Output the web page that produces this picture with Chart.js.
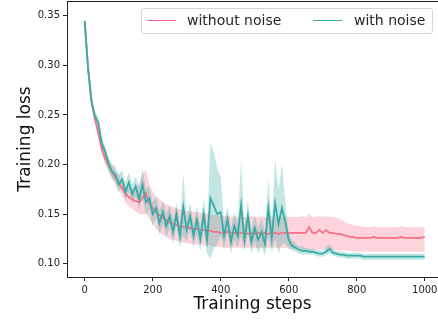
<!DOCTYPE html>
<html>
<head>
<meta charset="utf-8">
<script src="https://cdn.jsdelivr.net/npm/chart.js@4.4.1/dist/chart.umd.min.js"></script>
<style>
  body { margin: 0; background: #fff; }
  #wrap { position: relative; width: 438px; height: 320px; }
  #legend {
    position: absolute; left: 141px; top: 8px; width: 290px; height: 24px;
    border: 1px solid #d6d6d6; border-radius: 3px; background: rgba(255,255,255,0.8);
    font-family: "DejaVu Sans", sans-serif; font-size: 14px; color: #262626;
  }
  #legend .sw { position: absolute; top: 11px; width: 29px; height: 0; border-top: 1.8px solid; }
  #legend .lb { position: absolute; top: 3px; white-space: nowrap; }
</style>
</head>
<body>
<div id="wrap">
  <canvas id="myChart" width="438" height="320"></canvas>
  <div id="legend">
    <span class="sw" style="left:5px;border-color:#f77189"></span>
    <span class="lb" style="left:45px">without noise</span>
    <span class="sw" style="left:171px;border-color:#36ada4"></span>
    <span class="lb" style="left:212px">with noise</span>
  </div>
</div>
<script>
const steps = [0,10,20,30,40,50,60,70,80,90,100,110,120,130,140,150,160,170,180,190,
  200,210,220,230,240,250,260,270,280,290,300,310,320,330,340,350,360,370,380,390,
  400,410,420,430,440,450,460,470,480,490,500,510,520,530,540,550,560,570,580,590,
  600,610,620,630,640,650,660,670,680,690,700,710,720,730,740,750,760,770,780,790,
  800,810,820,830,840,850,860,870,880,890,900,910,920,930,940,950,960,970,980,990,1000];

// without noise
const redMean = [0.345,0.298,0.265,0.246,0.232,0.216,0.206,0.199,0.193,0.187,
  0.182,0.176,0.170,0.167,0.165,0.163,0.162,0.166,0.171,0.161,
  0.156,0.152,0.149,0.146,0.144,0.141,0.140,0.139,0.138,0.137,
  0.136,0.136,0.135,0.135,0.134,0.134,0.133,0.133,0.132,0.132,
  0.131,0.131,0.132,0.131,0.131,0.130,0.131,0.131,0.130,0.131,
  0.130,0.131,0.130,0.131,0.130,0.131,0.131,0.130,0.131,0.131,
  0.131,0.131,0.131,0.131,0.131,0.131,0.137,0.131,0.131,0.134,
  0.131,0.134,0.131,0.131,0.130,0.130,0.129,0.128,0.127,0.127,
  0.126,0.126,0.126,0.126,0.126,0.127,0.126,0.126,0.126,0.126,
  0.126,0.126,0.126,0.127,0.126,0.126,0.126,0.126,0.126,0.126,0.127];
const redLow = [0.341,0.293,0.260,0.241,0.227,0.211,0.200,0.193,0.186,0.180,
  0.174,0.168,0.162,0.158,0.155,0.152,0.150,0.150,0.150,0.145,
  0.140,0.135,0.132,0.129,0.127,0.125,0.124,0.123,0.122,0.121,
  0.121,0.120,0.120,0.119,0.119,0.118,0.118,0.118,0.117,0.117,
  0.117,0.116,0.116,0.116,0.116,0.116,0.116,0.116,0.116,0.116,
  0.116,0.116,0.116,0.116,0.116,0.116,0.116,0.116,0.116,0.116,
  0.115,0.115,0.115,0.115,0.115,0.114,0.114,0.114,0.114,0.114,
  0.114,0.114,0.114,0.114,0.114,0.113,0.113,0.113,0.113,0.112,
  0.112,0.112,0.112,0.112,0.112,0.112,0.112,0.112,0.112,0.112,
  0.112,0.112,0.112,0.112,0.112,0.112,0.112,0.112,0.112,0.112,0.112];
const redHigh = [0.349,0.303,0.270,0.251,0.237,0.221,0.212,0.205,0.200,0.194,
  0.190,0.185,0.179,0.177,0.176,0.176,0.180,0.190,0.195,0.180,
  0.172,0.168,0.165,0.162,0.160,0.158,0.157,0.156,0.155,0.154,
  0.153,0.153,0.152,0.152,0.151,0.151,0.150,0.150,0.149,0.149,
  0.148,0.148,0.148,0.147,0.148,0.147,0.148,0.147,0.147,0.148,
  0.147,0.147,0.148,0.147,0.147,0.148,0.147,0.147,0.147,0.148,
  0.147,0.147,0.147,0.147,0.148,0.147,0.150,0.147,0.147,0.148,
  0.147,0.148,0.147,0.147,0.146,0.145,0.143,0.141,0.140,0.139,
  0.138,0.138,0.137,0.137,0.137,0.138,0.137,0.137,0.137,0.137,
  0.137,0.137,0.137,0.138,0.137,0.137,0.137,0.137,0.137,0.137,0.137];

// with noise
const tealMean = [0.345,0.296,0.263,0.249,0.242,0.222,0.213,0.201,0.193,0.190,
  0.180,0.185,0.172,0.182,0.170,0.178,0.165,0.180,0.162,0.166,
  0.150,0.156,0.141,0.152,0.138,0.148,0.132,0.150,0.128,0.157,
  0.134,0.148,0.128,0.144,0.125,0.150,0.124,0.166,0.158,0.150,
  0.152,0.128,0.145,0.122,0.138,0.128,0.159,0.124,0.148,0.122,
  0.136,0.124,0.132,0.120,0.156,0.126,0.161,0.140,0.156,0.142,
  0.124,0.118,0.116,0.114,0.113,0.113,0.112,0.112,0.111,0.110,
  0.110,0.112,0.115,0.111,0.110,0.109,0.109,0.108,0.108,0.108,
  0.108,0.108,0.107,0.107,0.107,0.107,0.107,0.107,0.107,0.107,
  0.107,0.107,0.107,0.107,0.107,0.107,0.107,0.107,0.107,0.107,0.107];
const tealLow = [0.341,0.292,0.258,0.244,0.236,0.216,0.207,0.194,0.186,0.182,
  0.172,0.176,0.164,0.172,0.160,0.168,0.154,0.166,0.150,0.154,
  0.138,0.146,0.129,0.140,0.126,0.136,0.120,0.138,0.116,0.128,
  0.122,0.134,0.116,0.130,0.112,0.134,0.110,0.105,0.115,0.120,
  0.128,0.114,0.132,0.110,0.124,0.116,0.128,0.112,0.132,0.110,
  0.122,0.110,0.118,0.108,0.128,0.112,0.125,0.110,0.120,0.120,
  0.116,0.113,0.112,0.110,0.109,0.109,0.109,0.109,0.108,0.107,
  0.107,0.109,0.110,0.108,0.107,0.106,0.106,0.105,0.105,0.105,
  0.105,0.105,0.104,0.104,0.104,0.104,0.104,0.104,0.104,0.104,
  0.104,0.104,0.104,0.104,0.104,0.104,0.104,0.104,0.104,0.104,0.104];
const tealHigh = [0.349,0.300,0.268,0.254,0.248,0.228,0.219,0.208,0.200,0.198,
  0.190,0.194,0.182,0.192,0.180,0.188,0.178,0.196,0.176,0.178,
  0.162,0.168,0.153,0.164,0.150,0.160,0.144,0.162,0.140,0.191,
  0.146,0.162,0.140,0.158,0.138,0.166,0.138,0.222,0.212,0.196,
  0.188,0.142,0.158,0.134,0.152,0.140,0.205,0.136,0.164,0.134,
  0.150,0.136,0.146,0.132,0.185,0.140,0.205,0.175,0.200,0.162,
  0.132,0.123,0.120,0.118,0.117,0.116,0.115,0.115,0.114,0.113,
  0.113,0.116,0.120,0.115,0.113,0.112,0.112,0.111,0.111,0.111,
  0.111,0.111,0.110,0.110,0.110,0.110,0.110,0.110,0.110,0.110,
  0.110,0.110,0.110,0.110,0.110,0.110,0.110,0.110,0.110,0.110,0.110];

const xTicks = [0, 200, 400, 600, 800, 1000];
const yTicks = [0.10, 0.15, 0.20, 0.25, 0.30, 0.35];

const redColor = "#f77189";
const tealColor = "#36ada4";

function pts(arr) {
  return steps.map((s, i) => ({x: s, y: arr[i]}));
}

function band(arr, color, fill, order) {
  return {data: pts(arr), borderWidth: 0, pointRadius: 0, backgroundColor: color,
    fill: fill, order: order};
}

const topSpine = {
  id: "topSpine",
  afterDraw(chart) {
    const a = chart.chartArea, ctx = chart.ctx;
    ctx.save();
    ctx.strokeStyle = "#222";
    ctx.lineWidth = 1;
    ctx.beginPath();
    ctx.moveTo(a.left, a.top + 0.5);
    ctx.lineTo(a.right, a.top + 0.5);
    ctx.stroke();
    ctx.restore();
  }
};

const tickFont = {family: "DejaVu Sans", size: 10};
const titleFont = {family: "DejaVu Sans", size: 17};

new Chart("myChart", {
  type: "line",
  data: {
    datasets: [
      band(redLow, "rgba(247,113,137,0.3)", false, 4),
      band(redHigh, "rgba(247,113,137,0.3)", "-1", 4),
      band(tealLow, "rgba(54,173,164,0.3)", false, 3),
      band(tealHigh, "rgba(54,173,164,0.3)", "-1", 3),
      {label: "without noise", data: pts(redMean), borderColor: redColor, borderWidth: 1.8,
        pointRadius: 0, fill: false, order: 2},
      {label: "with noise", data: pts(tealMean), borderColor: tealColor, borderWidth: 1.8,
        pointRadius: 0, fill: false, order: 1}
    ]
  },
  options: {
    responsive: false,
    animation: false,
    layout: {padding: {top: 1, right: 0, left: 0, bottom: 0}},
    plugins: {legend: {display: false}, tooltip: {enabled: false}},
    scales: {
      x: {
        type: "linear", min: -52, max: 1039,
        afterBuildTicks: axis => { axis.ticks = xTicks.map(v => ({value: v})); },
        afterFit: axis => { axis.height = 43; axis.paddingRight = 0; axis.paddingLeft = 0; },
        grid: {drawOnChartArea: false, tickLength: 4, tickColor: "#222"},
        border: {color: "#222", width: 1},
        ticks: {font: tickFont, color: "#222", padding: 3, maxRotation: 0,
          callback: v => String(v)},
        title: {display: true, text: "Training steps", font: titleFont, color: "#111",
          padding: {top: 0, bottom: 5}}
      },
      y: {
        min: 0.0865, max: 0.365,
        afterBuildTicks: axis => { axis.ticks = yTicks.map(v => ({value: v})); },
        afterFit: axis => { axis.width = 67; axis.paddingTop = 0; axis.paddingBottom = 0; },
        grid: {drawOnChartArea: false, tickLength: 4, tickColor: "#222"},
        border: {color: "#222", width: 1},
        ticks: {font: tickFont, color: "#222", padding: 3, callback: v => v.toFixed(2)},
        title: {display: true, text: "Training loss", font: titleFont, color: "#111",
          padding: {top: 15, bottom: 0}}
      }
    }
  },
  plugins: [topSpine]
});
</script>
</body>
</html>
